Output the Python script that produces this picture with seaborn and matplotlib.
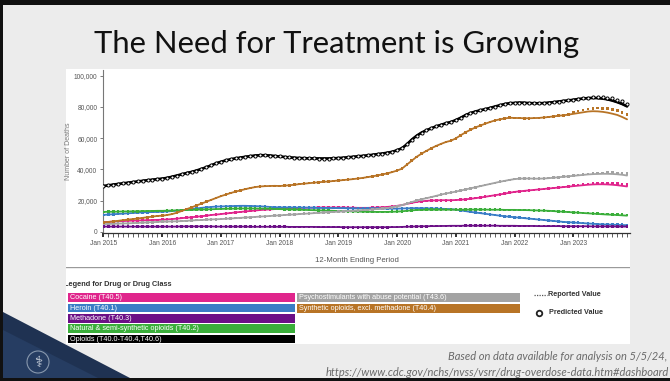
import numpy as np
import pandas as pd
import matplotlib
matplotlib.use("Agg")
import matplotlib.pyplot as plt
import seaborn as sns
from matplotlib.patches import Rectangle, Polygon, Circle
from matplotlib.ticker import FixedLocator, MultipleLocator

# ---------------- data (12-month ending counts, Jan 2015 .. Dec 2023) ----------------
year_ticks = [2015, 2016, 2017, 2018, 2019, 2020, 2021, 2022, 2023]
tick_labels = [f"Jan {y}" for y in year_ticks]
y_ticks = [0, 20000, 40000, 60000, 80000, 100000]

opioids = [29300, 29700, 30200, 30600, 31000, 31400, 31800, 32200, 32600, 33000, 33300, 33700,
           34000, 34500, 35200, 36000, 36800, 37600, 38300, 39200, 40200, 41300, 42500, 43800,
           44800, 45700, 46400, 47000, 47500, 48000, 48400, 48800, 49000, 49000, 48800, 48500,
           48200, 47900, 47600, 47400, 47200, 47100, 47000, 47000, 46900, 46900, 46900, 47000,
           47200, 47400, 47700, 48000, 48300, 48600, 48900, 49300, 49700, 50100, 50600, 51200,
           52200, 53500, 56000, 59000, 61500, 63500, 65000, 66300, 67500, 68500, 69500, 70300,
           71500, 73000, 74700, 76000, 77000, 77800, 78500, 79300, 80200, 81000, 81800, 82300,
           82500, 82700, 82600, 82400, 82300, 82300, 82400, 82700, 83000, 83400, 83800, 84100,
           84500, 85000, 85300, 85600, 85700, 85600, 85300, 84800, 84000, 83000, 81800, 80300]
opioids_pred_tail = [84700, 85200, 85600, 85900, 86100, 86200, 86100, 85900, 85400, 84700, 83600, 82000]

synthetic = [6000, 6300, 6600, 7000, 7400, 7800, 8100, 8500, 8900, 9300, 9700, 10100,
             10300, 10700, 11300, 12200, 13300, 14500, 15600, 16800, 18000, 19200, 20400, 21600,
             22800, 23800, 24800, 25700, 26500, 27300, 28000, 28600, 29000, 29200, 29300, 29400,
             29300, 29500, 29800, 30100, 30500, 30800, 31100, 31400, 31700, 32000, 32200, 32500,
             32800, 33100, 33400, 33700, 34100, 34500, 35000, 35500, 36100, 36700, 37400, 38200,
             39200, 40400, 43000, 45500, 48000, 50000, 51800, 53500, 55000, 56300, 57500, 58300,
             59800, 61800, 63700, 65300, 66800, 68000, 69200, 70300, 71300, 72000, 72600, 73000,
             72900, 72800, 72700, 72700, 72800, 72900, 73200, 73500, 73900, 74300, 74600, 75000,
             75500, 76000, 76500, 77000, 77200, 77100, 76800, 76300, 75600, 74800, 73500, 72000]
synthetic_pred_tail = [76500, 77300, 78000, 78600, 79000, 79200, 79100, 78800, 78200, 77500, 76300, 75000]

psychostim = [4900, 5000, 5100, 5200, 5300, 5400, 5500, 5700, 5800, 6000, 6100, 6300,
              6400, 6500, 6600, 6700, 6800, 7000, 7200, 7400, 7500, 7700, 7900, 8000,
              8100, 8300, 8500, 8700, 8900, 9100, 9300, 9500, 9700, 9900, 10100, 10300,
              10500, 10700, 10900, 11100, 11300, 11500, 11700, 11900, 12100, 12300, 12500, 12700,
              12800, 13000, 13200, 13400, 13600, 13800, 14000, 14300, 14600, 14900, 15300, 15700,
              16300, 17000, 18000, 19000, 20000, 20800, 21500, 22200, 23000, 23800, 24500, 25100,
              25700, 26400, 27100, 27800, 28500, 29200, 29900, 30600, 31300, 32000, 32600, 33200,
              33700, 34000, 34100, 34100, 34000, 34000, 34100, 34300, 34600, 34900, 35200, 35500,
              35800, 36100, 36400, 36700, 36900, 37000, 37100, 37100, 37000, 36800, 36500, 36000]
psychostim_pred_tail = [36000, 36400, 36800, 37100, 37400, 37600, 37700, 37800, 37800, 37700, 37500, 37200]

cocaine = [6200, 6300, 6500, 6700, 6800, 7000, 7100, 7200, 7300, 7400, 7500, 7600,
           7700, 7900, 8100, 8400, 8700, 9000, 9300, 9600, 9900, 10300, 10700, 11000,
           11300, 11700, 12000, 12400, 12700, 13000, 13300, 13600, 13900, 14100, 14300, 14500,
           14700, 14900, 15000, 15100, 15200, 15300, 15400, 15400, 15500, 15500, 15500, 15500,
           15500, 15500, 15400, 15400, 15300, 15300, 15300, 15400, 15500, 15700, 15900, 16200,
           16600, 17100, 17800, 18500, 19100, 19500, 19800, 20000, 20100, 20200, 20200, 20200,
           20300, 20500, 20800, 21100, 21500, 21900, 22400, 22900, 23400, 23900, 24400, 25000,
           25500, 25900, 26200, 26500, 26800, 27100, 27400, 27700, 28000, 28300, 28600, 28900,
           29200, 29500, 29800, 30100, 30300, 30400, 30400, 30300, 30100, 29800, 29400, 29000]
cocaine_pred_tail = [29500, 29900, 30300, 30600, 30900, 31100, 31200, 31200, 31100, 30900, 30600, 30300]

heroin = [10800, 11000, 11200, 11400, 11600, 11800, 12000, 12200, 12400, 12500, 12600, 12700,
          12800, 13000, 13200, 13500, 13800, 14100, 14500, 14900, 15300, 15600, 15900, 16100,
          16200, 16300, 16400, 16500, 16600, 16600, 16500, 16400, 16300, 16100, 15900, 15700,
          15600, 15600, 15600, 15500, 15500, 15500, 15400, 15400, 15300, 15300, 15200, 15200,
          15100, 15100, 15000, 15000, 14900, 14900, 14900, 14900, 14800, 14800, 14800, 14800,
          14800, 14900, 15000, 15100, 15100, 15100, 15000, 14900, 14800, 14700, 14600, 14500,
          14200, 13700, 13200, 12700, 12300, 11900, 11500, 11100, 10700, 10300, 9900, 9600,
          9300, 9000, 8700, 8400, 8100, 7800, 7500, 7200, 6900, 6600, 6300, 6100,
          5900, 5700, 5500, 5300, 5100, 4900, 4700, 4600, 4500, 4400, 4300, 4200]
heroin_pred_tail = [6000, 5800, 5600, 5400, 5200, 5000, 4900, 4800, 4700, 4600, 4500, 4400]

natural = [12700, 12800, 12800, 12900, 13000, 13000, 13100, 13100, 13200, 13300, 13300, 13400,
           13400, 13500, 13600, 13700, 13800, 13900, 14000, 14100, 14200, 14300, 14400, 14500,
           14600, 14700, 14800, 14800, 14900, 14900, 14900, 14900, 14800, 14800, 14700, 14600,
           14500, 14400, 14300, 14200, 14100, 14000, 13900, 13800, 13700, 13600, 13500, 13400,
           13300, 13200, 13100, 13000, 12900, 12800, 12800, 12700, 12700, 12700, 12700, 12800,
           12900, 13100, 13400, 13700, 13900, 14000, 14100, 14100, 14100, 14100, 14100, 14100,
           14100, 14100, 14200, 14200, 14200, 14200, 14200, 14100, 14100, 14100, 14000, 14000,
           14000, 13900, 13900, 13800, 13700, 13600, 13500, 13400, 13200, 13000, 12800, 12600,
           12400, 12200, 12000, 11800, 11600, 11400, 11200, 11000, 10900, 10700, 10500, 10300]
natural_pred_tail = [12500, 12300, 12100, 11900, 11700, 11600, 11400, 11300, 11200, 11000, 10900, 10700]

methadone = [3300, 3300, 3300, 3300, 3300, 3300, 3300, 3300, 3300, 3300, 3300, 3300,
             3300, 3300, 3300, 3300, 3400, 3400, 3400, 3400, 3400, 3400, 3400, 3300,
             3300, 3300, 3300, 3300, 3300, 3300, 3200, 3200, 3200, 3200, 3200, 3200,
             3200, 3200, 3100, 3100, 3100, 3100, 3100, 3100, 3000, 3000, 3000, 3000,
             3000, 2900, 2900, 2900, 2900, 2900, 2900, 2900, 2900, 2900, 2900, 3000,
             3000, 3100, 3200, 3300, 3400, 3500, 3500, 3600, 3600, 3700, 3700, 3800,
             3800, 3800, 3900, 3900, 3900, 3900, 3900, 3900, 3900, 3800, 3800, 3800,
             3800, 3700, 3700, 3700, 3700, 3600, 3600, 3600, 3600, 3600, 3500, 3500,
             3500, 3500, 3500, 3500, 3400, 3400, 3400, 3400, 3400, 3300, 3300, 3300]
methadone_pred_tail = [3500, 3500, 3500, 3500, 3500, 3500, 3500, 3500, 3500, 3500, 3500, 3500]

series_names = ["Cocaine (T40.5)", "Heroin (T40.1)", "Methadone (T40.3)",
                "Natural & semi-synthetic opioids (T40.2)", "Opioids (T40.0-T40.4,T40.6)",
                "Psychostimulants with abuse potential (T43.6)",
                "Synthetic opioids, excl. methadone (T40.4)"]
series_colors = ["#e0258c", "#3a7dc6", "#6b0f86", "#3aae3a", "#000000", "#a3a3a3", "#b87426"]
reported = [cocaine, heroin, methadone, natural, opioids, psychostim, synthetic]
pred_tails = [cocaine_pred_tail, heroin_pred_tail, methadone_pred_tail, natural_pred_tail,
              opioids_pred_tail, psychostim_pred_tail, synthetic_pred_tail]

rows = []
for name, rep, tail in zip(series_names, reported, pred_tails):
    pred = rep[:len(rep) - len(tail)] + tail
    for m, (r, p) in enumerate(zip(rep, pred)):
        rows.append({"month": m, "series": name, "reported": r, "predicted": p})
df = pd.DataFrame(rows)
palette = dict(zip(series_names, series_colors))

# ---------------- figure ----------------
sns.set_theme(style="white")
plt.rcParams['font.family'] = ['Liberation Sans', 'DejaVu Sans']

W, H = 670, 381
fig = plt.figure(figsize=(6.7, 3.81), dpi=100)
fig.patch.set_facecolor('#ececec')

bg = fig.add_axes([0, 0, 1, 1])
bg.set_xlim(0, W)
bg.set_ylim(H, 0)
bg.axis('off')
bg.set_zorder(0)

# slide frame
bg.add_patch(Rectangle((0, 0), W, 5, color='#111111', lw=0))
bg.add_patch(Rectangle((0, 0), 3, H, color='#111111', lw=0))
bg.add_patch(Rectangle((0, H - 3), W, 3, color='#111111', lw=0))

# white panels (chart image + legend image)
bg.add_patch(Rectangle((66, 69), 564, 198, color='white', lw=0))
bg.add_patch(Rectangle((66, 266.5), 564, 1.8, color='#9a9a9a', lw=0))
leg_panel = Rectangle((66, 269), 564, 75, color='white', lw=0)
bg.add_patch(leg_panel)

# navy corner
bg.add_patch(Polygon([(3, 312), (3, H - 3), (130, H - 3)], closed=True, color='#1f3252', lw=0))
bg.add_patch(Polygon([(3, 330), (3, H - 3), (98, H - 3)], closed=True, color='#263d62', lw=0))
bg.add_patch(Circle((38, 362), 11, fill=False, ec='#8898ad', lw=0.8))
bg.text(38, 362, "\u2695", ha='center', va='center', fontsize=11, color='#d5dbe3',
        family=['DejaVu Sans'])

# title
bg.text(337, 44, "The Need for Treatment is Growing", ha='center', va='center',
        fontsize=22.3, color='#111111', family=['Lato', 'DejaVu Sans'])

# footnote
bg.text(667, 357, "Based on data available for analysis on 5/5/24,", ha='right', va='center',
        fontsize=8.0, style='italic', color='#6a6a6a', family=['Lato', 'DejaVu Sans'])
bg.text(669, 372.5, "https://www.cdc.gov/nchs/nvss/vsrr/drug-overdose-data.htm#dashboard",
        ha='right', va='center', fontsize=8.0, style='italic', color='#6a6a6a',
        family=['Lato', 'DejaVu Sans'])

# legend image
t = bg.text(63.5, 284, "Legend for Drug or Drug Class", ha='left', va='center', fontsize=5.3,
            color='#333333', weight='bold')
t.set_clip_on(True)
t.set_clip_path(leg_panel)
col1 = series_names[:5]
col2 = series_names[5:]
for i, name in enumerate(col1):
    y0 = 293.3 + i * 10.35
    bg.add_patch(Rectangle((68.3, y0), 226.7, 8.7, color=palette[name], lw=0))
    bg.text(70, y0 + 4.5, name, ha='left', va='center', fontsize=5.2, color='white')
for i, name in enumerate(col2):
    y0 = 293.3 + i * 10.35
    bg.add_patch(Rectangle((297, y0), 223, 8.9, color=palette[name], lw=0))
    bg.text(299, y0 + 4.5, name, ha='left', va='center', fontsize=5.2, color='white')
bg.plot([534, 547], [294.5, 294.5], ls=(0, (1, 1)), color='#555555', lw=0.9)
bg.text(548, 294.5, "Reported Value", ha='left', va='center', fontsize=5.2, color='#333333',
        weight='bold')
bg.plot([538.5], [312.5], marker='o', ms=4, mfc='white', mec='#222222', mew=1.3)
bg.text(549, 312.5, "Predicted Value", ha='left', va='center', fontsize=5.2, color='#333333',
        weight='bold')

# ---------------- chart ----------------
ax = fig.add_axes([103 / W, 1 - 233.3 / H, (630 - 103) / W, (233.3 - 70) / H])
ax.set_zorder(2)
ax.patch.set_alpha(0)

sns.lineplot(data=df, x="month", y="reported", hue="series", palette=palette,
             hue_order=series_names, legend=False, lw=1.3, ax=ax)
colored = df[df.series != "Opioids (T40.0-T40.4,T40.6)"]
sns.scatterplot(data=colored, x="month", y="predicted", hue="series", palette=palette,
                legend=False, s=3.5, marker='s', linewidth=0, ax=ax, zorder=3)
blk = df[df.series == "Opioids (T40.0-T40.4,T40.6)"]
sns.lineplot(data=blk, x="month", y="reported", color='black', lw=1.9, ax=ax, zorder=4)
sns.scatterplot(data=blk, x="month", y="predicted", marker='o', s=5, facecolor='white',
                edgecolor='black', linewidth=0.7, ax=ax, zorder=5)

ax.set_xlim(-0.1, 107.6)
ax.set_ylim(-1000, 103600)
ax.xaxis.set_major_locator(FixedLocator([12 * i for i in range(len(year_ticks))]))
ax.set_xticklabels(tick_labels)
ax.xaxis.set_minor_locator(MultipleLocator(1))
ax.yaxis.set_major_locator(FixedLocator(y_ticks))
ax.set_yticklabels([f"{v:,}" for v in y_ticks])
ax.tick_params(axis='x', which='major', length=3.2, width=1.3, color='#222222', labelsize=4.8,
               labelcolor='#555555', pad=1.5, bottom=True)
ax.tick_params(axis='x', which='minor', length=2.6, width=0.6, color='#444444', bottom=True)
ax.tick_params(axis='y', which='major', length=2.5, width=0.6, color='#666666', labelsize=4.8,
               labelcolor='#555555', pad=1.5, left=True)
for s in ['top', 'right']:
    ax.spines[s].set_visible(False)
ax.spines['left'].set_color('#777777')
ax.spines['left'].set_linewidth(0.8)
ax.spines['bottom'].set_color('#333333')
ax.spines['bottom'].set_linewidth(0.9)
ax.set_xlabel("12-Month Ending Period", fontsize=5.6, color='#555555')
ax.set_ylabel("Number of Deaths", fontsize=5.0, color='#777777')
ax.xaxis.set_label_coords((357 - 103) / 527, -0.145)
ax.yaxis.set_label_coords((72 - 103) / 527, 0.5)
ax.grid(False)

fig.savefig("out.png", dpi=100, facecolor=fig.get_facecolor())
